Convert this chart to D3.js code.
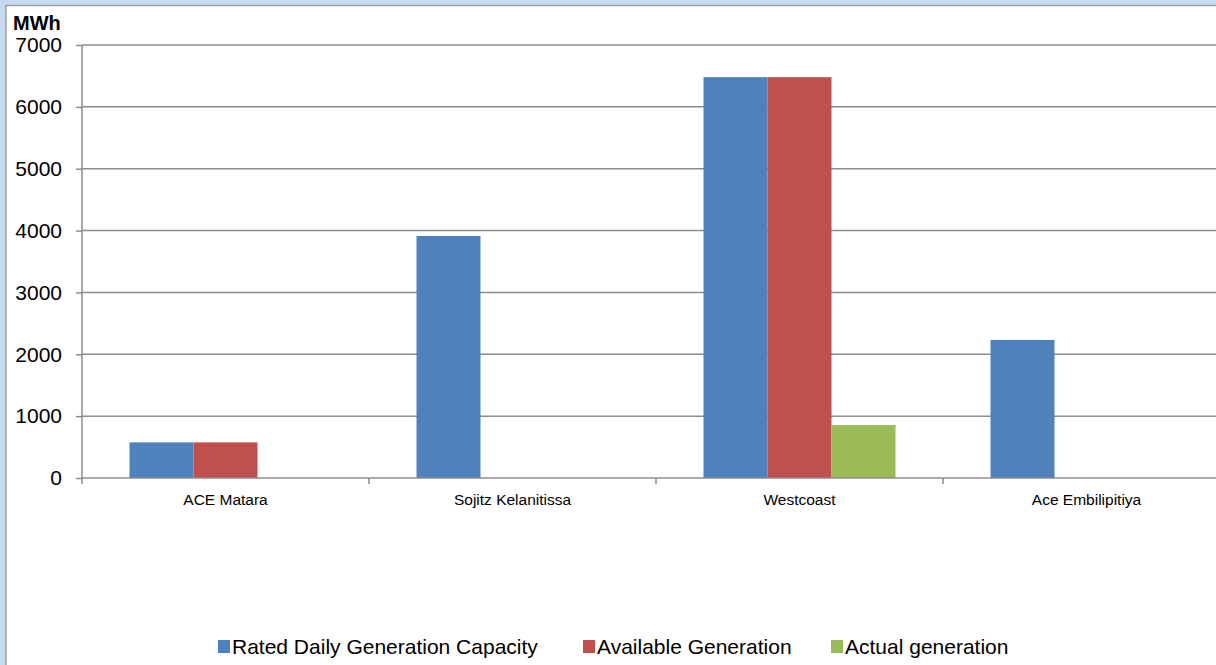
<!DOCTYPE html>
<html>
<head>
<meta charset="utf-8">
<script src="https://cdn.jsdelivr.net/npm/d3@7"></script>
<style>
  body { margin: 0; background: #c6d9f1; }
  svg { display: block; }
</style>
</head>
<body>
<script>
// Donnees
var plants = ['ACE Matara', 'Sojitz Kelanitissa', 'Westcoast', 'Ace Embilipitiya']
var seriesNames = ['Rated Daily Generation Capacity', 'Available Generation', 'Actual generation']
var rated = [576, 3912, 6480, 2232]
var available = [576, 0, 6480, 0]
var actual = [0, 0, 857, 0]
var yTicks = [0, 1000, 2000, 3000, 4000, 5000, 6000, 7000]

var colours = ['#4f81bd', '#c0504d', '#9bbb59']
var font = '"Liberation Sans", Arial, sans-serif'

var width = 1216
var height = 665
var margin = { left: 82, top: 45, bottom: 478 }

var svg = d3.select('body').append('svg')
    .attr('width', width)
    .attr('height', height)

// Cadre
svg.append('rect')
    .attr('x', 6).attr('y', 5.5)
    .attr('width', width).attr('height', height)
    .attr('fill', 'white')
    .attr('stroke', '#a0a0a0')
    .attr('stroke-width', 1.5)

// Echelles
var x = d3.scaleBand()
    .domain(plants)
    .range([margin.left, margin.left + 287 * plants.length])

var xInner = d3.scaleBand()
    .domain(seriesNames)
    .range([47.5, 287 - 47.5])

var y = d3.scaleLinear()
    .domain([0, 7000])
    .range([margin.bottom, margin.top])

// Grille
svg.append('g')
    .selectAll('line')
    .data(yTicks.slice(1))
    .join('line')
    .attr('x1', margin.left).attr('x2', width)
    .attr('y1', d => y(d)).attr('y2', d => y(d))
    .attr('stroke', '#8c8c8c')
    .attr('stroke-width', 1.5)

// Barres
var table = plants.map((p, i) => ({ plant: p, values: [rated[i], available[i], actual[i]] }))

svg.append('g')
    .selectAll('g')
    .data(table)
    .join('g')
    .attr('transform', d => 'translate(' + x(d.plant) + ',0)')
    .selectAll('rect')
    .data(d => d.values.map((v, k) => ({ name: seriesNames[k], value: v, k: k })))
    .join('rect')
    .attr('x', d => xInner(d.name))
    .attr('width', xInner.bandwidth())
    .attr('y', d => y(d.value))
    .attr('height', d => y(0) - y(d.value))
    .attr('fill', d => colours[d.k])

// Axe Y
var yAxis = svg.append('g')
    .attr('transform', 'translate(' + margin.left + ',0)')
    .call(d3.axisLeft(y).tickValues(yTicks).tickSize(6).tickPadding(14).tickFormat(d3.format('d')))
yAxis.select('.domain').attr('stroke', '#8c8c8c').attr('stroke-width', 1.5)
    .attr('d', 'M0,' + margin.top + 'V' + margin.bottom)
yAxis.selectAll('.tick line').attr('stroke', '#8c8c8c').attr('stroke-width', 1.5)
yAxis.selectAll('.tick text')
    .attr('font-family', font)
    .attr('font-size', '21px')
    .attr('fill', '#000')

// Axe X
var xAxis = svg.append('g')
    .attr('transform', 'translate(0,' + margin.bottom + ')')
    .call(d3.axisBottom(x).tickSize(0).tickPadding(16))
xAxis.select('.domain').attr('stroke', '#8c8c8c').attr('stroke-width', 1.5)
    .attr('d', 'M' + margin.left + ',0H' + width)
xAxis.selectAll('.tick text')
    .attr('font-family', font)
    .attr('font-size', '15.5px')
    .attr('fill', '#000')
xAxis.selectAll('.sep')
    .data(plants)
    .join('line')
    .attr('class', 'sep')
    .attr('x1', d => x(d)).attr('x2', d => x(d))
    .attr('y1', 0).attr('y2', 6)
    .attr('stroke', '#8c8c8c')
    .attr('stroke-width', 1.5)

// Unite
svg.append('text')
    .attr('x', 13).attr('y', 30)
    .attr('font-family', font)
    .attr('font-size', '20px')
    .attr('font-weight', 'bold')
    .text('MWh')

// Legende
var legendX = [218, 583, 831]
var legend = svg.append('g')
    .selectAll('g')
    .data(seriesNames)
    .join('g')
    .attr('transform', (d, i) => 'translate(' + legendX[i] + ',640)')
legend.append('rect')
    .attr('width', 12).attr('height', 13)
    .attr('y', 0)
    .attr('fill', (d, i) => colours[i])
legend.append('text')
    .attr('x', 14).attr('y', 14)
    .attr('font-family', font)
    .attr('font-size', '21px')
    .text(d => d)
</script>
</body>
</html>
